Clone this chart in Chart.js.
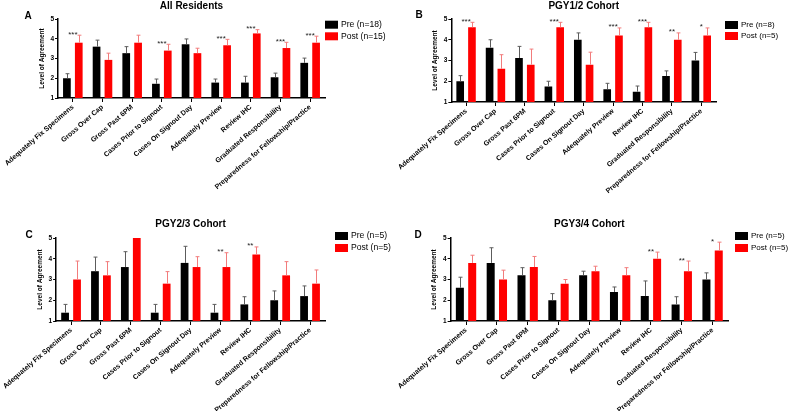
<!DOCTYPE html>
<html>
<head>
<meta charset="utf-8">
<script src="https://cdn.jsdelivr.net/npm/chart.js@4.4.1/dist/chart.umd.min.js"></script>
<style>
  html, body { margin: 0; padding: 0; background: #fff; }
  #wrap { position: relative; width: 789px; height: 411px; overflow: hidden; }
  canvas { position: absolute; }
</style>
</head>
<body>
<div id="wrap">
  <canvas id="panelA" width="395" height="200" style="left:0;top:0"></canvas>
  <canvas id="panelB" width="394" height="200" style="left:395px;top:0"></canvas>
  <canvas id="panelC" width="395" height="211" style="left:0;top:200px"></canvas>
  <canvas id="panelD" width="394" height="211" style="left:395px;top:200px"></canvas>
</div>
<script>
// survey items (x categories)
const categories = [
  "Adequately Fix Specimens", "Gross Over Cap", "Gross Past 6PM", "Cases Prior to Signout",
  "Cases On Signout Day", "Adequately Preview", "Review IHC", "Graduated Responsibility",
  "Preparedness for Fellowship/Practice"
];
const yTicks = [1, 2, 3, 4, 5];

// A - all residents
const preAll = [2.0, 3.6, 3.27, 1.72, 3.72, 1.78, 1.78, 2.05, 2.78];
const preAllErr = [0.23, 0.33, 0.33, 0.24, 0.27, 0.18, 0.32, 0.21, 0.24];
const postAll = [3.8, 2.93, 3.8, 3.4, 3.27, 3.67, 4.27, 3.53, 3.8];
const postAllErr = [0.38, 0.34, 0.38, 0.32, 0.25, 0.3, 0.19, 0.29, 0.33];
const starsAll = ["***", "", "", "***", "", "***", "***", "***", "***"];

// B - PGY1/2
const prePgy12 = [2.0, 3.62, 3.12, 1.75, 4.0, 1.62, 1.5, 2.25, 3.0];
const prePgy12Err = [0.27, 0.38, 0.56, 0.25, 0.33, 0.28, 0.27, 0.25, 0.39];
const postPgy12 = [4.6, 2.6, 2.8, 4.6, 2.8, 4.2, 4.6, 4.0, 4.2];
const postPgy12Err = [0.24, 0.68, 0.75, 0.24, 0.6, 0.37, 0.24, 0.33, 0.37];
const starsPgy12 = ["***", "", "", "***", "", "***", "***", "**", "*"];

// C - PGY2/3
const prePgy23 = [1.4, 3.4, 3.6, 1.4, 3.8, 1.4, 1.8, 2.0, 2.2];
const prePgy23Err = [0.4, 0.68, 0.74, 0.4, 0.8, 0.4, 0.37, 0.45, 0.49];
const postPgy23 = [3.0, 3.2, 5.0, 2.8, 3.6, 3.6, 4.2, 3.2, 2.8];
const postPgy23Err = [0.89, 0.66, 0, 0.58, 0.5, 0.69, 0.37, 0.66, 0.66];
const starsPgy23 = ["", "", "", "", "", "**", "**", "", ""];

// D - PGY3/4
const prePgy34 = [2.6, 3.8, 3.2, 2.0, 3.2, 2.4, 2.2, 1.8, 3.0];
const prePgy34Err = [0.51, 0.73, 0.37, 0.32, 0.2, 0.24, 0.73, 0.37, 0.32];
const postPgy34 = [3.8, 3.0, 3.6, 2.8, 3.4, 3.2, 4.0, 3.4, 4.4];
const postPgy34Err = [0.37, 0.45, 0.51, 0.2, 0.24, 0.37, 0.32, 0.49, 0.4];
const starsPgy34 = ["", "", "", "", "", "", "**", "**", "*"];

const FONT = "'Liberation Sans', Arial, sans-serif";

// error bars (upper only), significance stars, panel letter and legend
const panelExtras = {
  id: "panelExtras",
  afterDatasetsDraw(chart, args, opts) {
    const ctx = chart.ctx;
    const xs = chart.scales.x, ys = chart.scales.y;
    const area = chart.chartArea;
    ctx.save();
    chart.data.datasets.forEach((ds, di) => {
      const meta = chart.getDatasetMeta(di);
      meta.data.forEach((bar, i) => {
        const err = ds.errors[i];
        if (!err) return;
        const top = ys.getPixelForValue(ds.data[i] + err);
        const cap = bar.width / 4;
        const bx = Math.round(bar.x) + 0.5;
        ctx.strokeStyle = ds.errColor;
        ctx.lineWidth = 1;
        ctx.beginPath();
        ctx.moveTo(bx, bar.y);
        ctx.lineTo(bx, top);
        ctx.moveTo(bx - cap, top);
        ctx.lineTo(bx + cap, top);
        ctx.stroke();
      });
    });

    ctx.fillStyle = "#222";
    ctx.font = "8px " + FONT;
    ctx.textAlign = "center";
    ctx.textBaseline = "alphabetic";
    opts.stars.forEach((s, i) => {
      if (!s) return;
      const ds = chart.data.datasets;
      const hi = Math.max(ds[0].data[i] + ds[0].errors[i], ds[1].data[i] + ds[1].errors[i]);
      ctx.fillText(s, xs.getPixelForValue(i), ys.getPixelForValue(hi) + 1.5);
    });

    ctx.fillStyle = "#000";
    ctx.font = "bold 10px " + FONT;
    ctx.textBaseline = "middle";
    ctx.fillText(opts.letter, opts.letterPos[0], opts.letterPos[1]);

    const lx = area.right + opts.legendDx;
    let ly = area.top + opts.legendDy;
    ctx.font = opts.legendSize + "px " + FONT;
    ctx.textAlign = "left";
    chart.data.datasets.forEach((ds) => {
      ctx.fillStyle = ds.backgroundColor;
      ctx.fillRect(lx, ly, 13, 8);
      ctx.fillStyle = "#000";
      ctx.fillText(ds.label, lx + 16, ly + 4);
      ly += opts.legendGap;
    });
    ctx.restore();
  }
};

function buildPanel(id, cfg) {
  const canvas = document.getElementById(id);
  const W = canvas.width, H = canvas.height;
  const yWidth = 20;
  new Chart(canvas, {
    type: "bar",
    data: {
      labels: categories,
      datasets: [
        { label: cfg.preLabel, data: cfg.pre, errors: cfg.preErr, errColor: "#5c5c5c", backgroundColor: "#000000" },
        { label: cfg.postLabel, data: cfg.post, errors: cfg.postErr, errColor: "#f27c7c", backgroundColor: "#ff0000" }
      ]
    },
    options: {
      responsive: false,
      animation: false,
      layout: { padding: { left: cfg.area.left - yWidth, right: W - cfg.area.right, top: 0, bottom: 0 } },
      datasets: { bar: { categoryPercentage: 0.8, barPercentage: 0.65 } },
      plugins: {
        legend: { display: false },
        tooltip: { enabled: false },
        title: {
          display: true,
          text: cfg.title,
          fullSize: false,
          color: "#000",
          font: { family: FONT, size: 10, weight: "bold" },
          padding: { top: cfg.titleTop, bottom: cfg.area.top - cfg.titleTop - 12 }
        },
        panelExtras: {
          stars: cfg.stars,
          letter: cfg.letter,
          letterPos: cfg.letterPos,
          legendDx: cfg.legendDx,
          legendDy: cfg.legendDy,
          legendGap: cfg.legendGap,
          legendSize: cfg.legendSize
        }
      },
      scales: {
        x: {
          afterFit: (s) => { s.height = H - cfg.area.bottom; },
          grid: { display: true, drawOnChartArea: false, drawTicks: true, tickLength: 4, offset: false, color: "#000" },
          border: { display: true, color: "#000", width: 1.5 },
          ticks: {
            autoSkip: false, minRotation: 41, maxRotation: 41, padding: 1,
            color: "#000", font: { family: FONT, size: 7, weight: "bold" }
          }
        },
        y: {
          min: 1, max: 5,
          afterFit: (s) => { s.width = yWidth; },
          afterBuildTicks: (s) => { s.ticks = yTicks.map((v) => ({ value: v })); },
          grid: { display: true, drawOnChartArea: false, drawTicks: true, tickLength: 3, color: "#000" },
          border: { display: true, color: "#000", width: 1.5 },
          title: {
            display: true, text: "Level of Agreement", color: "#000",
            padding: { top: 0, bottom: 0 },
            font: { family: FONT, size: 6.5, weight: "bold" }
          },
          ticks: { padding: 1, color: "#000", font: { family: FONT, size: 6.5, weight: "bold" } }
        }
      }
    },
    plugins: [panelExtras]
  });
}

buildPanel("panelA", {
  title: "All Residents", letter: "A", letterPos: [28, 16],
  pre: preAll, preErr: preAllErr, post: postAll, postErr: postAllErr, stars: starsAll,
  preLabel: "Pre (n=18)", postLabel: "Post (n=15)",
  area: { left: 58, right: 325, top: 19, bottom: 98 }, titleTop: 0,
  legendDx: 0, legendDy: 1.7, legendGap: 11.6, legendSize: 8.6
});
buildPanel("panelB", {
  title: "PGY1/2 Cohort", letter: "B", letterPos: [24, 15],
  pre: prePgy12, preErr: prePgy12Err, post: postPgy12, postErr: postPgy12Err, stars: starsPgy12,
  preLabel: "Pre (n=8)", postLabel: "Post (n=5)",
  area: { left: 48, right: 321, top: 19, bottom: 102 }, titleTop: 0,
  legendDx: 9, legendDy: 2, legendGap: 11, legendSize: 8
});
buildPanel("panelC", {
  title: "PGY2/3 Cohort", letter: "C", letterPos: [29, 35],
  pre: prePgy23, preErr: prePgy23Err, post: postPgy23, postErr: postPgy23Err, stars: starsPgy23,
  preLabel: "Pre (n=5)", postLabel: "Post (n=5)",
  area: { left: 50, right: 325, top: 38, bottom: 121 }, titleTop: 18,
  legendDx: 10, legendDy: -6, legendGap: 12, legendSize: 8.6
});
buildPanel("panelD", {
  title: "PGY3/4 Cohort", letter: "D", letterPos: [23, 35],
  pre: prePgy34, preErr: prePgy34Err, post: postPgy34, postErr: postPgy34Err, stars: starsPgy34,
  preLabel: "Pre (n=5)", postLabel: "Post (n=5)",
  area: { left: 53, right: 333, top: 38, bottom: 121 }, titleTop: 18,
  legendDx: 7, legendDy: -6, legendGap: 12, legendSize: 8
});
</script>
</body>
</html>
